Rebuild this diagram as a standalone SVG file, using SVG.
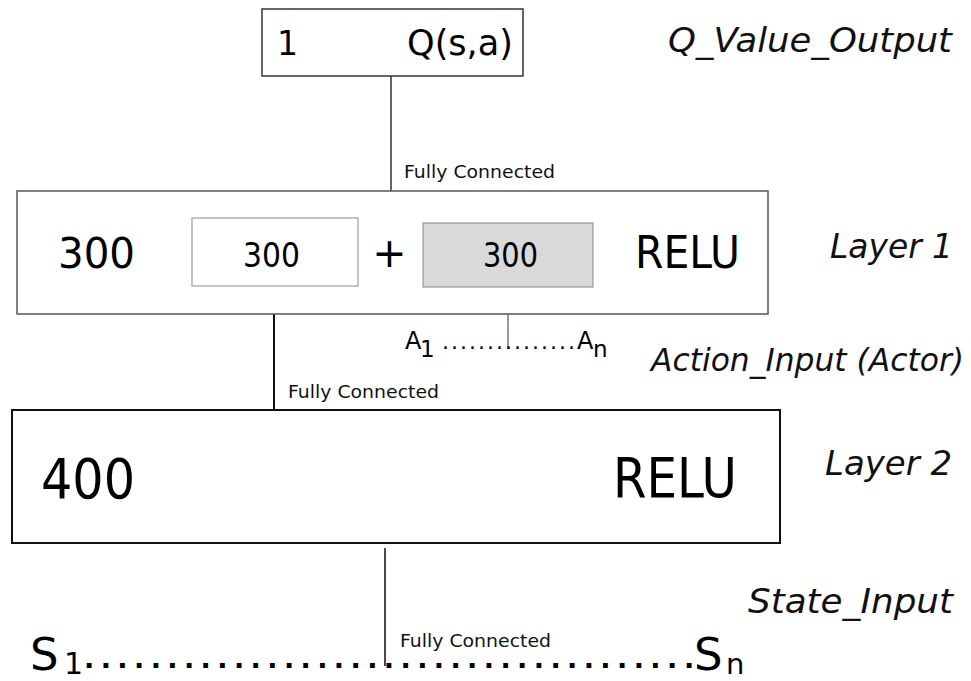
<svg xmlns="http://www.w3.org/2000/svg" width="971" height="681" viewBox="0 0 971 681">
<style>
  text { font-family: "DejaVu Sans", Verdana, sans-serif; fill: #000; }
  .lbl { font-style: italic; font-size: 34px; fill: #111; }
  .fc { font-size: 18px; fill: #111; }
  .box { fill: #fff; }
</style>
<rect width="971" height="681" fill="#fff"/>

<g id="connectors" fill="none">
  <line x1="391" y1="76" x2="391" y2="191" stroke="#333" stroke-width="1.5"/>
  <line x1="274" y1="286" x2="274" y2="410" stroke="#111" stroke-width="2"/>
  <line x1="508" y1="287" x2="508" y2="349" stroke="#555" stroke-width="1.2"/>
  <line x1="385" y1="548" x2="385" y2="666" stroke="#111" stroke-width="1.5"/>
  <text class="fc" x="404" y="178" textLength="151" lengthAdjust="spacingAndGlyphs">Fully Connected</text>
  <text class="fc" x="288" y="398" textLength="151" lengthAdjust="spacingAndGlyphs">Fully Connected</text>
  <text class="fc" x="400" y="647" textLength="151" lengthAdjust="spacingAndGlyphs">Fully Connected</text>
</g>

<g id="q_value_output">
  <rect class="box" x="262" y="9" width="261" height="67" stroke="#333" stroke-width="1.5"/>
  <text x="277" y="55" font-size="33">1</text>
  <text x="407" y="55" font-size="35" textLength="106" lengthAdjust="spacingAndGlyphs">Q(s,a)</text>
</g>

<g id="layer1">
  <rect class="box" x="17" y="191" width="751" height="123" stroke="#555" stroke-width="1.5"/>
  <text x="58" y="268" font-size="42" textLength="77" lengthAdjust="spacingAndGlyphs">300</text>
  <g id="layer1_state">
    <rect x="192" y="218" width="166" height="68" fill="#fff" stroke="#888" stroke-width="1"/>
    <text x="243" y="267" font-size="34" textLength="57" lengthAdjust="spacingAndGlyphs">300</text>
  </g>
  <text x="389.5" y="267" font-size="41" text-anchor="middle">+</text>
  <g id="layer1_action">
    <rect x="423" y="223" width="170" height="64" fill="#d9d9d9" stroke="#888" stroke-width="1"/>
    <text x="483" y="267" font-size="34" textLength="55" lengthAdjust="spacingAndGlyphs">300</text>
  </g>
  <text x="635" y="268" font-size="45" textLength="105" lengthAdjust="spacingAndGlyphs">RELU</text>
</g>

<g id="layer2">
  <rect class="box" x="12" y="410" width="768" height="133" stroke="#111" stroke-width="2"/>
  <text x="41" y="498" font-size="55" textLength="94" lengthAdjust="spacingAndGlyphs">400</text>
  <text x="613" y="497" font-size="55" textLength="124" lengthAdjust="spacingAndGlyphs">RELU</text>
</g>

<g id="action_input">
  <text y="349" font-size="24"><tspan x="405">A</tspan><tspan x="420" dy="8" font-size="23">1</tspan><tspan x="442" dy="-8" font-size="22" letter-spacing="2">...............</tspan><tspan x="577">A</tspan><tspan x="593" dy="8" font-size="23">n</tspan></text>
</g>

<g id="state_input">
  <text y="670" font-size="45"><tspan x="30">S</tspan><tspan x="64" dy="4" font-size="30">1</tspan><tspan x="84" dy="-6" font-size="27" font-weight="bold" letter-spacing="6.4">....................................</tspan><tspan x="684" font-size="27" font-weight="bold">.</tspan><tspan x="694" dy="2">S</tspan><tspan x="726" dy="4" font-size="29">n</tspan></text>
</g>

<g id="labels">
  <text class="lbl" x="668" y="52" textLength="284" lengthAdjust="spacingAndGlyphs">Q_Value_Output</text>
  <text class="lbl" x="830" y="258" textLength="123" lengthAdjust="spacingAndGlyphs">Layer 1</text>
  <text class="lbl" x="651" y="371" font-size="31.5" textLength="313" lengthAdjust="spacingAndGlyphs" style="font-size:31.5px">Action_Input (Actor)</text>
  <text class="lbl" x="825" y="475" textLength="127" lengthAdjust="spacingAndGlyphs">Layer 2</text>
  <text class="lbl" x="748" y="613" textLength="205" lengthAdjust="spacingAndGlyphs">State_Input</text>
</g>
</svg>
